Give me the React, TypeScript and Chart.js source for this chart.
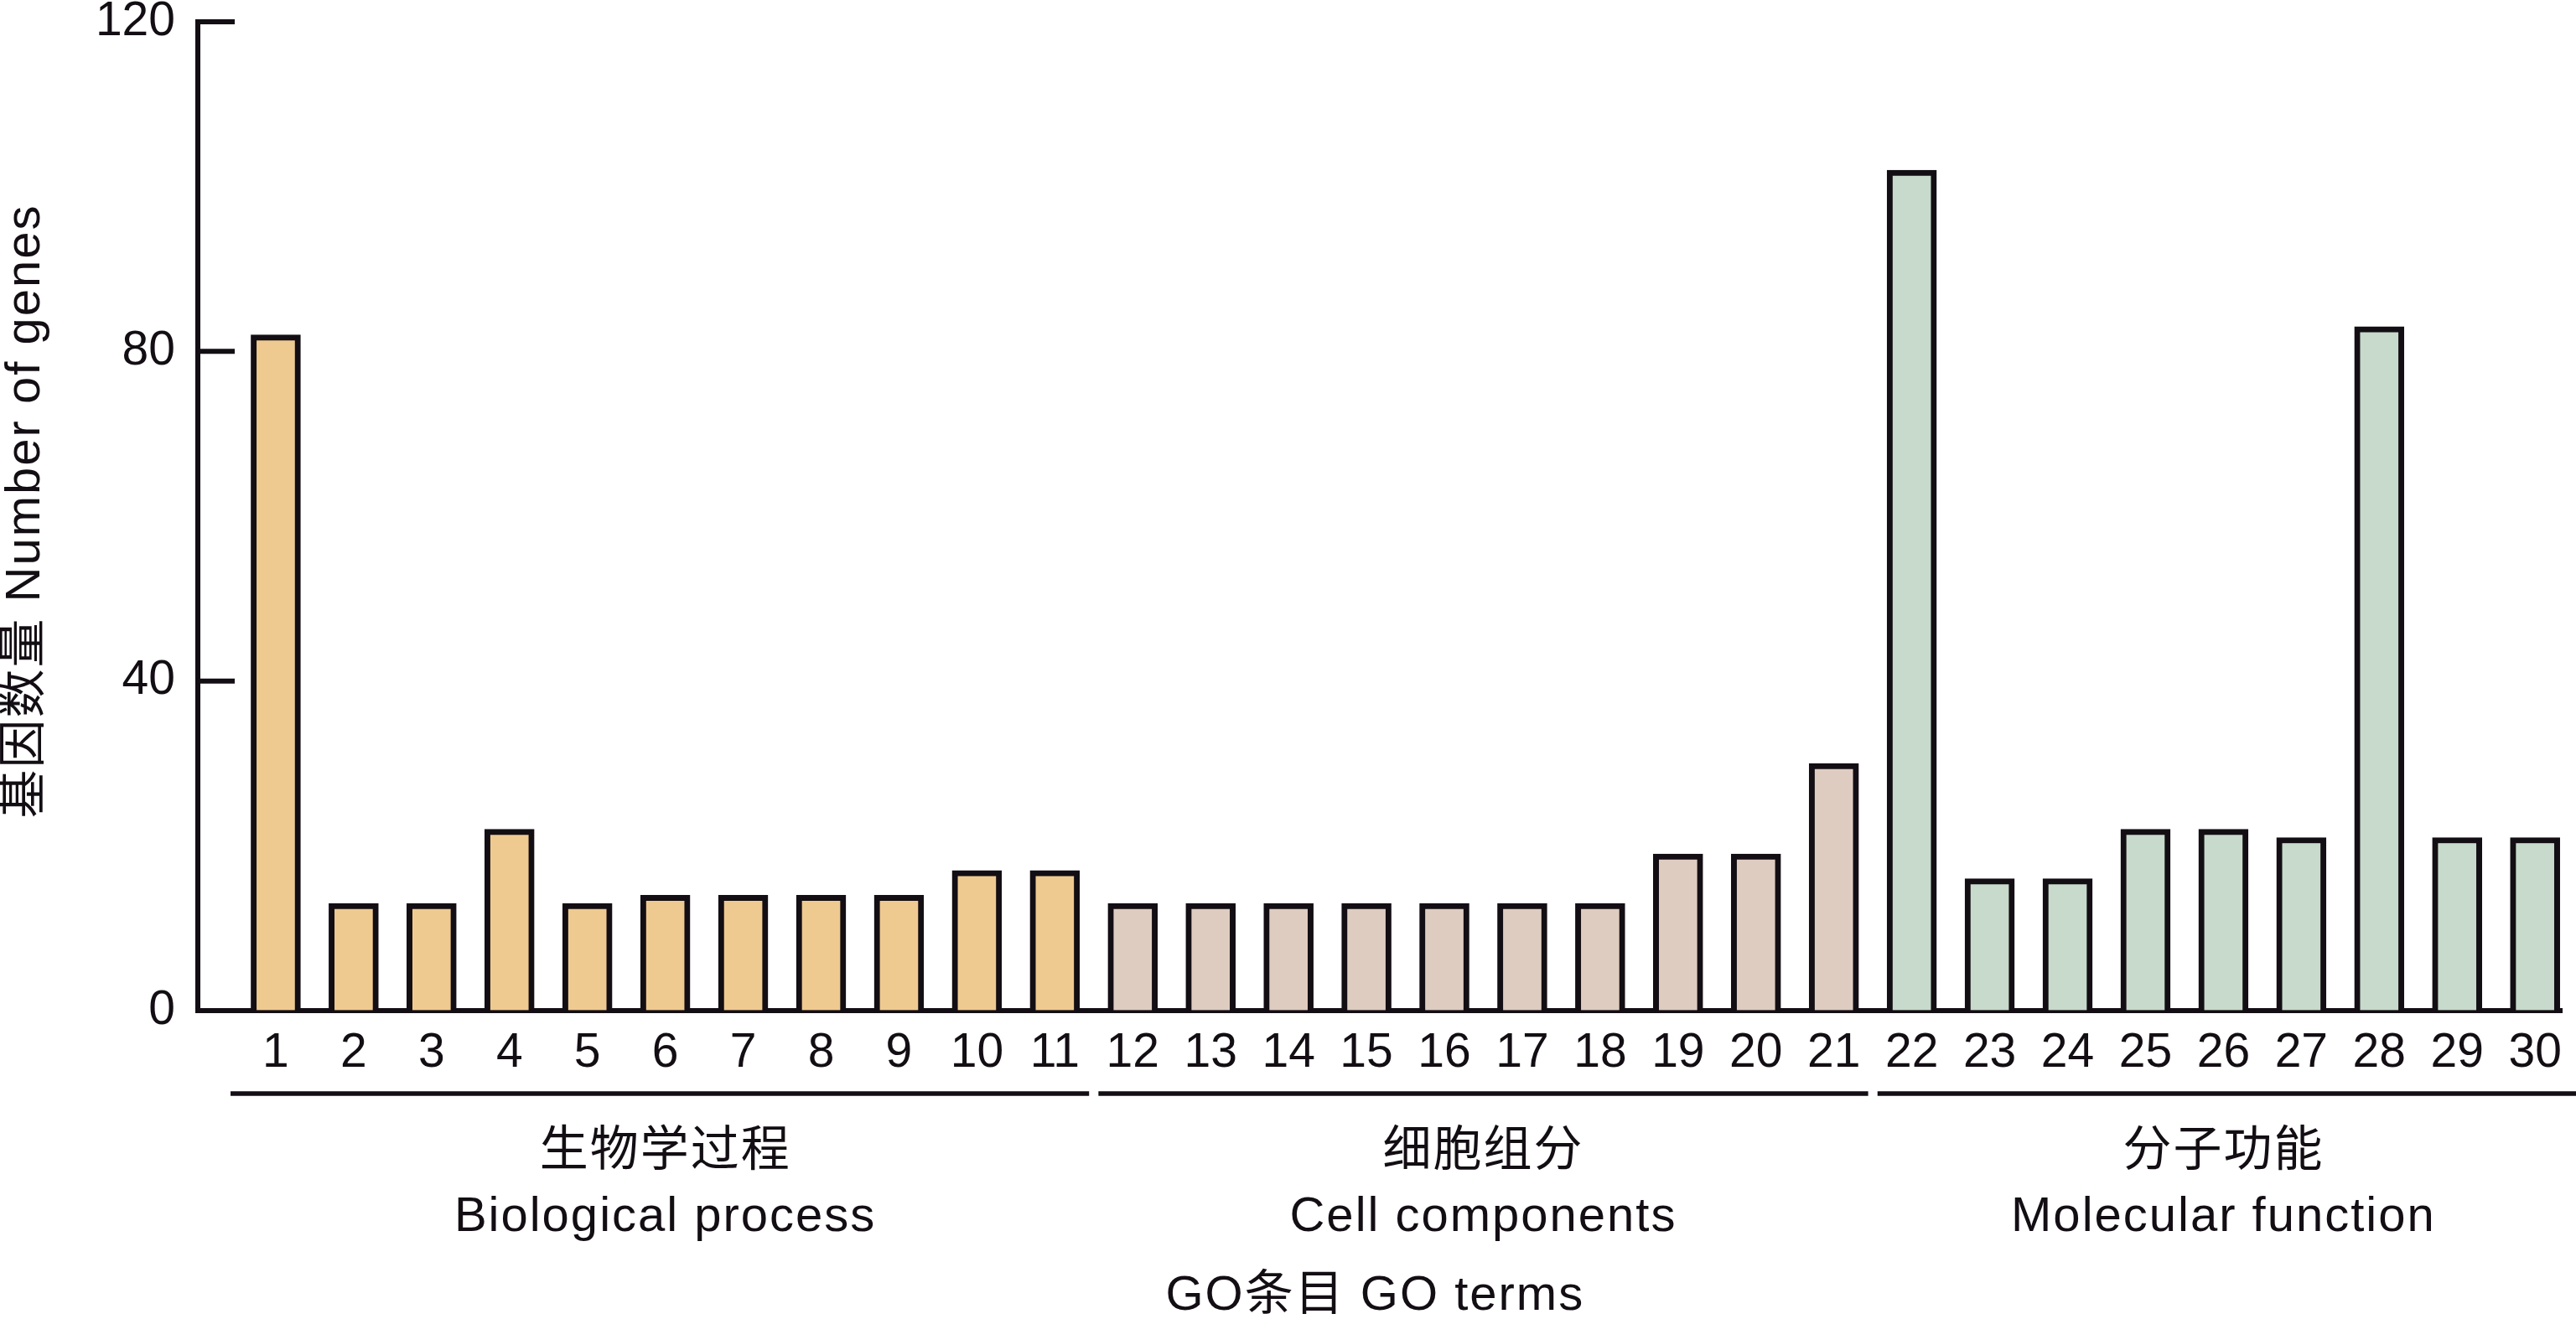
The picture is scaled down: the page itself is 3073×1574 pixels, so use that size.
import React, { useEffect, useRef } from "react";
import { Chart, registerables } from "chart.js";

Chart.register(...registerables);

// ---- data ----
const categories: string[] = Array.from({ length: 30 }, (_, i) => String(i + 1));
const geneCounts: number[] = [
  82, 13, 13, 22, 13, 14, 14, 14, 14, 17, 17,
  13, 13, 13, 13, 13, 13, 13, 19, 19, 30,
  102, 16, 16, 22, 22, 21, 83, 21, 21,
];
const groupNamesZh: string[] = ["生物学过程", "细胞组分", "分子功能"];
const groupNamesEn: string[] = ["Biological process", "Cell components", "Molecular function"];
const groupFirst: number[] = [1, 12, 22];
const groupLast: number[] = [11, 21, 30];
const groupColors: string[] = ["#EFCA90", "#DFCCC1", "#C7DACB"];
const yTicks: number[] = [0, 40, 80, 120];
const yTitle = "基因数量 Number of genes";
const xTitle = "GO条目 GO terms";

const INK = "#130e13";
const FONT = "'Liberation Sans', 'Noto Sans CJK SC', sans-serif";

function groupOf(i: number): number {
  for (let g = 0; g < groupFirst.length; g++) {
    if (i >= groupFirst[g] && i <= groupLast[g]) return g;
  }
  return 0;
}

const decorPlugin = {
  id: "decor",
  afterDraw(chart: any) {
    const ctx: CanvasRenderingContext2D = chart.ctx;
    const xs = chart.scales.x;
    const ys = chart.scales.y;
    const area = chart.chartArea;
    ctx.save();
    ctx.strokeStyle = INK;
    ctx.fillStyle = INK;
    ctx.lineCap = "butt";

    // inward y tick marks
    ctx.lineWidth = 6;
    yTicks.forEach((t) => {
      const py = ys.getPixelForValue(t);
      ctx.beginPath();
      ctx.moveTo(area.left - 3, py);
      ctx.lineTo(area.left + 44, py);
      ctx.stroke();
    });

    // group brackets
    ctx.lineWidth = 5.5;
    const bracketY = 1305;
    groupFirst.forEach((f, g) => {
      const startV = g === 0 ? f - 0.58 : f - 0.44;
      const endV = groupLast[g] + 0.44;
      const x1 = xs.getPixelForValue(startV);
      const x2 = g === groupFirst.length - 1 ? chart.width : xs.getPixelForValue(endV);
      ctx.beginPath();
      ctx.moveTo(x1, bracketY);
      ctx.lineTo(x2, bracketY);
      ctx.stroke();
    });

    // group labels
    (ctx as any).letterSpacing = "2px";
    ctx.font = `58px ${FONT}`;
    ctx.textAlign = "center";
    groupFirst.forEach((f, g) => {
      const cx = (xs.getPixelForValue(f) + xs.getPixelForValue(groupLast[g])) / 2;
      ctx.textBaseline = "middle";
      ctx.fillText(groupNamesZh[g], cx, 1375);
      ctx.textBaseline = "alphabetic";
      ctx.fillText(groupNamesEn[g], cx, 1469);
    });

    // x title
    ctx.textBaseline = "alphabetic";
    ctx.fillText(xTitle, (area.left + area.right) / 2 - 6, 1563);

    // y title
    ctx.save();
    ctx.translate(47, (area.top + area.bottom) / 2 - 6);
    ctx.rotate(-Math.PI / 2);
    ctx.textAlign = "center";
    ctx.textBaseline = "alphabetic";
    ctx.fillText(yTitle, 0, 0);
    ctx.restore();

    ctx.restore();
  },
};

export default function App() {
  const canvasRef = useRef<HTMLCanvasElement | null>(null);

  useEffect(() => {
    document.body.style.margin = "0";
    document.body.style.overflow = "hidden";
    const canvas = canvasRef.current;
    if (!canvas) return;
    const chart = new Chart(canvas, {
      type: "bar",
      data: {
        datasets: [
          {
            data: geneCounts.map((v, i) => ({ x: i + 1, y: v })),
            backgroundColor: geneCounts.map((_, i) => groupColors[groupOf(i + 1)]),
            borderColor: INK,
            borderWidth: 7,
            barThickness: 59,
          },
        ],
      },
      options: {
        animation: false,
        responsive: false,
        devicePixelRatio: 1,
        layout: { padding: { top: 26, right: 13, left: 0, bottom: 0 } },
        plugins: { legend: { display: false }, tooltip: { enabled: false } },
        scales: {
          x: {
            type: "linear",
            offset: false,
            min: 0,
            max: 30.35,
            grid: { display: false, drawTicks: false },
            border: { display: true, color: INK, width: 6 },
            afterBuildTicks: (s: any) => {
              s.ticks = categories.map((_, i) => ({ value: i + 1 }));
            },
            afterFit: (s: any) => {
              s.height = 368;
            },
            ticks: {
              autoSkip: false,
              maxRotation: 0,
              padding: 17,
              color: INK,
              font: { family: FONT, size: 57 },
              callback: (v: any) => categories[Number(v) - 1] ?? "",
            },
          },
          y: {
            min: 0,
            max: 120,
            grid: {
              display: true,
              drawOnChartArea: false,
              drawTicks: true,
              tickLength: 27,
              color: "rgba(0,0,0,0)",
              lineWidth: 1,
            },
            border: { display: true, color: INK, width: 6 },
            afterBuildTicks: (s: any) => {
              s.ticks = yTicks.map((v) => ({ value: v }));
            },
            afterFit: (s: any) => {
              s.width = 236;
            },
            ticks: {
              padding: 0,
              color: INK,
              font: { family: FONT, size: 57, lineHeight: 0.9 },
            },
          },
        },
      },
      plugins: [decorPlugin],
    } as any);
    return () => chart.destroy();
  }, []);

  return (
    <div style={{ position: "fixed", left: 0, top: 0, width: 3073, height: 1574, background: "#fff" }}>
      <canvas ref={canvasRef} width={3073} height={1574} style={{ width: 3073, height: 1574, display: "block" }} />
    </div>
  );
}
